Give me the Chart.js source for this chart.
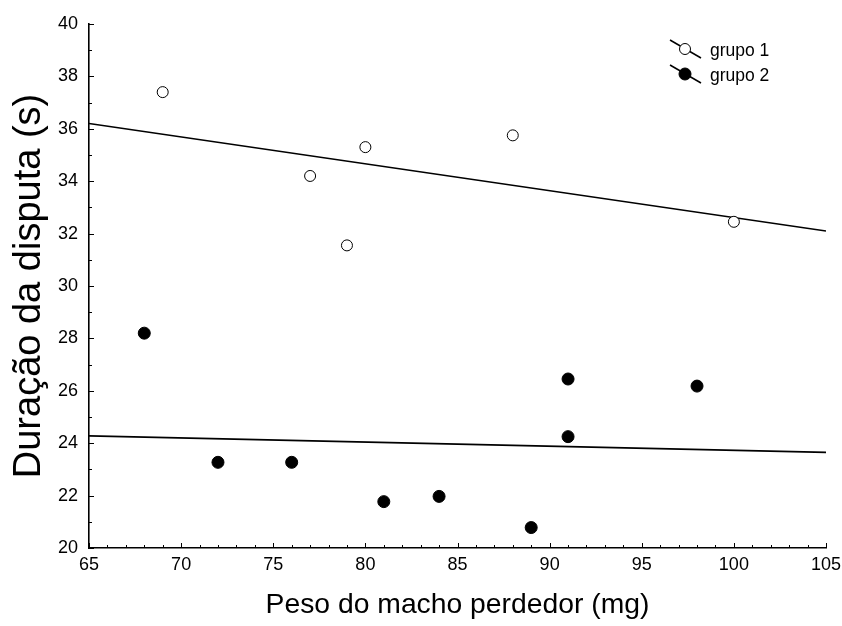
<!DOCTYPE html>
<html>
<head>
<meta charset="utf-8">
<script src="https://cdn.jsdelivr.net/npm/chart.js@4/dist/chart.umd.min.js"></script>
<style>
  html, body { margin: 0; padding: 0; background: #fff; }
  #wrap { width: 842px; height: 626px; }
</style>
</head>
<body>
<div id="wrap"><canvas id="c" width="842" height="626"></canvas></div>
<script>
// ---- data ----
const grupo1X = [69, 77, 79, 80, 88, 100];
const grupo1Y = [37.4, 34.2, 31.55, 35.3, 35.75, 32.45];
const grupo2X = [68, 72, 76, 81, 84, 89, 91, 91, 98];
const grupo2Y = [28.2, 23.27, 23.27, 21.77, 21.97, 20.78, 26.45, 24.25, 26.18];
const fitX = [65, 105];
const fit1Y = [36.2, 32.1];
const fit2Y = [24.28, 23.65];
const seriesNames = ['grupo 1', 'grupo 2'];
const xTicks = [65, 70, 75, 80, 85, 90, 95, 100, 105];
const yTicks = [20, 22, 24, 26, 28, 30, 32, 34, 36, 38, 40];
const xTitle = 'Peso do macho perdedor (mg)';
const yTitle = 'Duração da disputa (s)';

const FONT = "Arial, 'Liberation Sans', sans-serif";
const pts = (xs, ys) => xs.map((x, i) => ({ x: x, y: ys[i] }));

// inward tick marks (major + minor) drawn from the scales
const tickPlugin = {
  id: 'inTicks',
  afterDatasetsDraw(chart) {
    const { ctx, scales: { x, y }, chartArea: a } = chart;
    ctx.save();
    ctx.strokeStyle = '#000';
    ctx.lineWidth = 1;
    for (let v = x.min; v <= x.max; v += 1) {
      const px = Math.round(x.getPixelForValue(v)) + 0.5;
      const len = (v % 5 === 0) ? 5 : 3;
      ctx.beginPath(); ctx.moveTo(px, a.bottom); ctx.lineTo(px, a.bottom - len); ctx.stroke();
    }
    for (let v = y.min; v <= y.max; v += 1) {
      const py = Math.round(y.getPixelForValue(v)) + 0.5;
      const len = (v % 2 === 0) ? 5 : 3;
      ctx.beginPath(); ctx.moveTo(a.left, py); ctx.lineTo(a.left + len, py); ctx.stroke();
    }
    ctx.restore();
  }
};

// legend: diagonal line with marker, like the reference
const legendPlugin = {
  id: 'diagLegend',
  afterDraw(chart) {
    const { ctx } = chart;
    const rows = [
      { ds: chart.data.datasets[0], y: 49 },
      { ds: chart.data.datasets[1], y: 74 }
    ];
    ctx.save();
    rows.forEach(r => {
      ctx.strokeStyle = '#000';
      ctx.lineWidth = 1.5;
      ctx.beginPath(); ctx.moveTo(670, r.y - 9); ctx.lineTo(701, r.y + 9); ctx.stroke();
      ctx.beginPath();
      ctx.arc(685, r.y, r.ds.pointRadius, 0, Math.PI * 2);
      ctx.fillStyle = r.ds.pointBackgroundColor;
      ctx.fill();
      ctx.lineWidth = 1;
      ctx.stroke();
      ctx.fillStyle = '#000';
      ctx.font = '17.5px ' + FONT;
      ctx.textBaseline = 'middle';
      ctx.textAlign = 'left';
      ctx.fillText(r.ds.label, 710, r.y + 2);
    });
    ctx.restore();
  }
};

new Chart(document.getElementById('c'), {
  type: 'scatter',
  data: {
    datasets: [
      {
        label: seriesNames[0],
        data: pts(grupo1X, grupo1Y),
        pointRadius: 5.5,
        pointBackgroundColor: '#ffffff',
        pointBorderColor: '#000000',
        pointBorderWidth: 1,
        order: 1
      },
      {
        label: seriesNames[1],
        data: pts(grupo2X, grupo2Y),
        pointRadius: 6,
        pointBackgroundColor: '#000000',
        pointBorderColor: '#000000',
        pointBorderWidth: 1,
        order: 1
      },
      {
        label: 'fit 1',
        data: pts(fitX, fit1Y),
        showLine: true,
        borderColor: '#000',
        borderWidth: 1.6,
        pointRadius: 0,
        order: 2
      },
      {
        label: 'fit 2',
        data: pts(fitX, fit2Y),
        showLine: true,
        borderColor: '#000',
        borderWidth: 1.6,
        pointRadius: 0,
        order: 2
      }
    ]
  },
  options: {
    responsive: false,
    animation: false,
    events: [],
    layout: { padding: { top: 24, right: 16, left: 0, bottom: 0 } },
    plugins: { legend: { display: false }, tooltip: { enabled: false } },
    scales: {
      x: {
        type: 'linear',
        min: 65, max: 105,
        afterBuildTicks: s => { s.ticks = xTicks.map(v => ({ value: v })); },
        afterFit: s => { s.height = 78; s.paddingLeft = 0; s.paddingRight = 0; },
        grid: { display: false, drawTicks: false },
        border: { display: true, color: '#000', width: 1.6 },
        ticks: { color: '#000', font: { family: FONT, size: 18 }, padding: 6, maxRotation: 0 },
        title: { display: true, text: xTitle, color: '#000', font: { family: FONT, size: 28.3 }, padding: { top: 0, bottom: 4 } }
      },
      y: {
        type: 'linear',
        min: 20, max: 40,
        afterBuildTicks: s => { s.ticks = yTicks.map(v => ({ value: v })); },
        afterFit: s => { s.width = 89; s.paddingTop = 0; s.paddingBottom = 0; },
        grid: { display: false, drawTicks: false },
        border: { display: true, color: '#000', width: 1.6 },
        ticks: { color: '#000', font: { family: FONT, size: 18 }, padding: 11 },
        title: { display: true, text: yTitle, color: '#000', font: { family: FONT, size: 38 }, padding: { top: 7, bottom: 0 } }
      }
    }
  },
  plugins: [tickPlugin, legendPlugin]
});
</script>
</body>
</html>
